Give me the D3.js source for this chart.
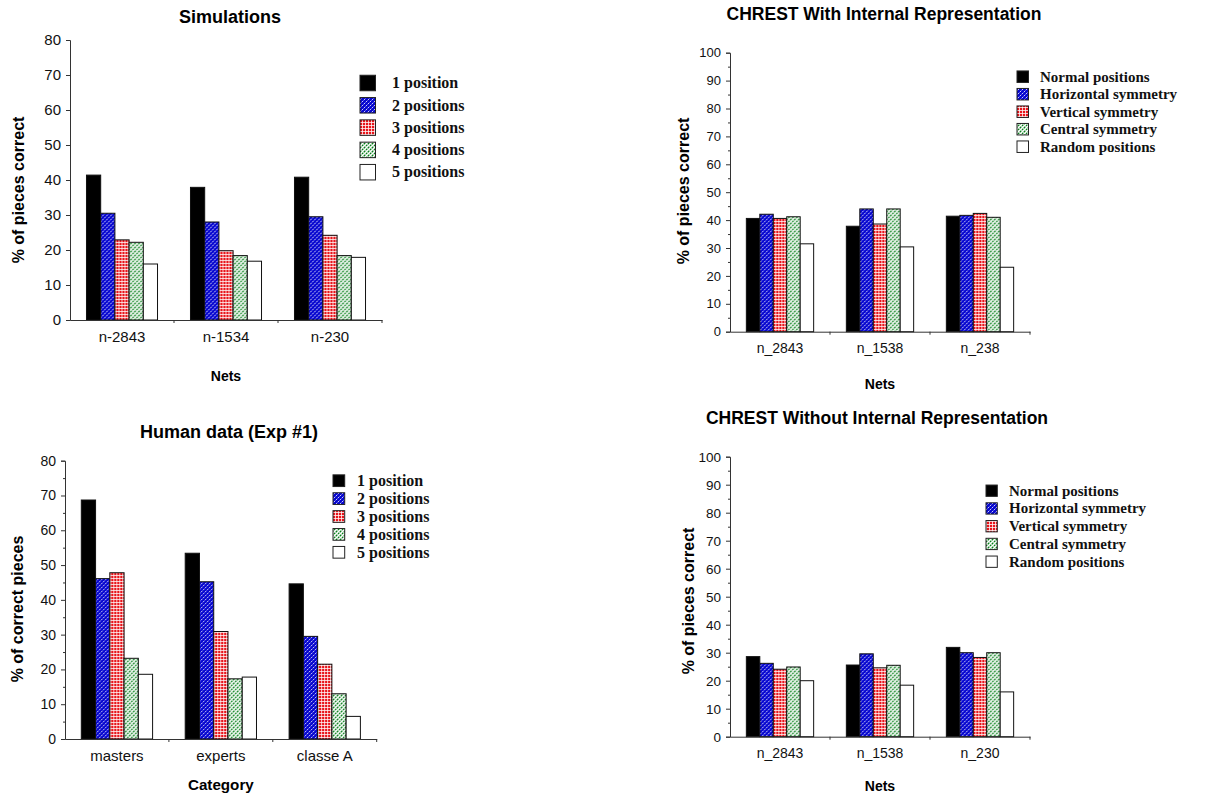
<!DOCTYPE html>
<html>
<head>
<meta charset="utf-8">
<script src="https://cdn.jsdelivr.net/npm/d3@7"></script>
<style>
  html, body { margin: 0; padding: 0; background: #fff; }
  svg { display: block; }
  .sans { font-family: "Liberation Sans", Arial, Helvetica, sans-serif; }
  .serif { font-family: "Liberation Serif", "Times New Roman", serif; }
</style>
</head>
<body>
<svg id="chart" width="1209" height="797"></svg>
<script>
// ---------------- DATA ----------------
const posSeries = ["1 position", "2 positions", "3 positions", "4 positions", "5 positions"];
const symSeries = ["Normal positions", "Horizontal symmetry", "Vertical symmetry", "Central symmetry", "Random positions"];

const simCategories = ["n-2843", "n-1534", "n-230"];
const simValues = [
  [41.4, 30.5, 22.9, 22.2, 16.0],
  [37.9, 28.0, 19.8, 18.4, 16.8],
  [40.8, 29.5, 24.2, 18.4, 17.9]
];

const withCategories = ["n_2843", "n_1538", "n_238"];
const withValues = [
  [40.6, 42.1, 40.6, 41.2, 31.5],
  [37.8, 44.0, 38.6, 44.0, 30.4],
  [41.4, 41.7, 42.4, 41.0, 23.1]
];

const humanCategories = ["masters", "experts", "classe A"];
const humanValues = [
  [68.7, 46.1, 47.8, 23.2, 18.6],
  [53.4, 45.2, 30.9, 17.3, 17.8],
  [44.6, 29.5, 21.5, 13.0, 6.5]
];

const withoutCategories = ["n_2843", "n_1538", "n_230"];
const withoutValues = [
  [28.6, 26.2, 24.1, 24.9, 20.0],
  [25.6, 29.6, 24.6, 25.5, 18.4],
  [31.9, 30.0, 28.3, 30.0, 16.0]
];

const ticks80 = [0, 10, 20, 30, 40, 50, 60, 70, 80];
const ticks100 = [0, 10, 20, 30, 40, 50, 60, 70, 80, 90, 100];
const minor80 = [5, 15, 25, 35, 45, 55, 65, 75];
const minor100 = [5, 15, 25, 35, 45, 55, 65, 75, 85, 95];

// ---------------- PATTERNS ----------------
const svg = d3.select("#chart");
const defs = svg.append("defs");

const pBlue = defs.append("pattern").attr("id", "pBlue")
  .attr("patternUnits", "userSpaceOnUse").attr("width", 4).attr("height", 4);
pBlue.append("rect").attr("width", 4).attr("height", 4).attr("fill", "#0808d0");
pBlue.append("path").attr("d", "M-1,1 L1,-1 M0,4 L4,0 M3,5 L5,3")
  .attr("stroke", "#fff").attr("stroke-width", 0.8).attr("stroke-dasharray", "1.8,0.8");

const pRed = defs.append("pattern").attr("id", "pRed")
  .attr("patternUnits", "userSpaceOnUse").attr("width", 3).attr("height", 3);
pRed.append("rect").attr("width", 3).attr("height", 3).attr("fill", "#e8141a");
pRed.append("rect").attr("x", 2).attr("y", 0).attr("width", 1).attr("height", 3).attr("fill", "#fff").attr("opacity", 0.75);
pRed.append("rect").attr("x", 0).attr("y", 2).attr("width", 3).attr("height", 1).attr("fill", "#fff").attr("opacity", 0.75);

const pGreen = defs.append("pattern").attr("id", "pGreen")
  .attr("patternUnits", "userSpaceOnUse").attr("width", 4).attr("height", 4);
pGreen.append("rect").attr("width", 4).attr("height", 4).attr("fill", "#fff");
pGreen.append("path").attr("d", "M-1,1 L1,-1 M0,4 L4,0 M3,5 L5,3")
  .attr("stroke", "#07801a").attr("stroke-width", 1.3).attr("stroke-dasharray", "2,0.8");

const fills = ["#000", "url(#pBlue)", "url(#pRed)", "url(#pGreen)", "#fff"];

// ---------------- PANEL DRAWING ----------------
function drawPanel(cfg) {
  const g = svg.append("g");
  const x0 = d3.scaleBand().domain(cfg.categories)
    .range([cfg.left, cfg.right]).paddingInner(cfg.pad).paddingOuter(cfg.pad / 2);
  const x1 = d3.scaleBand().domain(d3.range(cfg.series.length))
    .range([0, x0.bandwidth()]).padding(0);
  const y = d3.scaleLinear().domain([0, cfg.yMax]).range([cfg.bottom, cfg.top]);

  // title
  g.append("text").attr("class", "sans")
    .attr("x", cfg.titleX).attr("y", cfg.titleY)
    .attr("text-anchor", "middle").attr("font-weight", "bold")
    .attr("font-size", cfg.titleSize).text(cfg.title);

  // bars
  cfg.categories.forEach((c, ci) => {
    const grp = g.append("g").attr("transform", `translate(${x0(c)},0)`);
    grp.selectAll("rect").data(cfg.values[ci]).join("rect")
      .attr("x", (d, i) => x1(i))
      .attr("y", d => y(d))
      .attr("width", x1.bandwidth())
      .attr("height", d => y(0) - y(d))
      .attr("fill", (d, i) => fills[i])
      .attr("stroke", "#111").attr("stroke-width", 1);
  });

  // y axis
  const yAxis = g.append("g").attr("class", "sans")
    .attr("transform", `translate(${cfg.left},0)`)
    .call(d3.axisLeft(y).tickValues(cfg.yTicks).tickSize(4).tickPadding(5).tickFormat(d3.format("d")));
  yAxis.selectAll("text").attr("font-size", cfg.tickSize).attr("fill", "#111");
  yAxis.select(".domain").attr("stroke", "#333");
  yAxis.selectAll(".tick line").attr("stroke", "#333");
  if (cfg.minor) {
    const ym = g.append("g").attr("transform", `translate(${cfg.left},0)`)
      .call(d3.axisLeft(y).tickValues(cfg.minor).tickSize(2).tickFormat(""));
    ym.select(".domain").remove();
    ym.selectAll(".tick line").attr("stroke", "#333");
  }

  // x axis (labels centered under groups, ticks at group boundaries)
  const xAxis = g.append("g").attr("class", "sans")
    .attr("transform", `translate(0,${cfg.bottom})`)
    .call(d3.axisBottom(x0).tickSize(0).tickPadding(cfg.catPad));
  xAxis.selectAll("text").attr("font-size", cfg.catSize).attr("fill", "#111");
  xAxis.select(".domain").attr("stroke", "#333");
  const step = x0.step();
  const bounds = d3.range(cfg.categories.length + 1).map(i => cfg.left + i * step);
  g.append("g").selectAll("line").data(bounds.slice(1)).join("line")
    .attr("x1", d => d).attr("x2", d => d)
    .attr("y1", cfg.bottom).attr("y2", cfg.bottom + 3)
    .attr("stroke", "#333");

  // axis titles
  g.append("text").attr("class", "sans")
    .attr("x", (cfg.left + cfg.right) / 2).attr("y", cfg.xLabelY)
    .attr("text-anchor", "middle").attr("font-weight", "bold")
    .attr("font-size", cfg.xLabelSize).text(cfg.xLabel);
  g.append("text").attr("class", "sans")
    .attr("transform", `translate(${cfg.yLabelX},${cfg.yLabelY}) rotate(-90)`)
    .attr("text-anchor", "middle").attr("dominant-baseline", "central")
    .attr("font-weight", "bold").attr("font-size", 16).text(cfg.yLabel);

  // legend
  const lg = g.append("g");
  cfg.series.forEach((s, i) => {
    const cy = cfg.legY + i * cfg.legStep;
    lg.append("rect")
      .attr("x", cfg.legX).attr("y", cy - cfg.legBox / 2)
      .attr("width", cfg.legBox).attr("height", cfg.legBox)
      .attr("fill", fills[i]).attr("stroke", "#222").attr("stroke-width", 1);
    lg.append("text").attr("class", "serif")
      .attr("x", cfg.legTextX).attr("y", cy + cfg.legFont * 0.33)
      .attr("font-weight", "bold").attr("font-size", cfg.legFont)
      .attr("fill", "#111").text(s);
  });
}

drawPanel({
  title: "Simulations", titleX: 230, titleY: 23, titleSize: 18,
  categories: simCategories, series: posSeries, values: simValues,
  left: 70, right: 382, top: 40, bottom: 320, pad: 0.317,
  yMax: 80, yTicks: ticks80, minor: null, tickSize: 15, catSize: 15, catPad: 11,
  xLabel: "Nets", xLabelY: 381, xLabelSize: 14,
  yLabel: "% of pieces correct", yLabelX: 18, yLabelY: 190,
  legX: 360, legY: 83, legStep: 22.3, legBox: 15.5, legTextX: 392, legFont: 16
});

drawPanel({
  title: "CHREST With Internal Representation", titleX: 884, titleY: 19.5, titleSize: 17.5,
  categories: withCategories, series: symSeries, values: withValues,
  left: 730, right: 1030, top: 52.7, bottom: 331.7, pad: 0.327,
  yMax: 100, yTicks: ticks100, minor: minor100, tickSize: 13, catSize: 14, catPad: 11,
  xLabel: "Nets", xLabelY: 389, xLabelSize: 14,
  yLabel: "% of pieces correct", yLabelX: 683, yLabelY: 191,
  legX: 1017, legY: 76.7, legStep: 17.5, legBox: 11.5, legTextX: 1040, legFont: 15
});

drawPanel({
  title: "Human data (Exp #1)", titleX: 229, titleY: 438, titleSize: 18,
  categories: humanCategories, series: posSeries, values: humanValues,
  left: 65, right: 376.7, top: 460.7, bottom: 739, pad: 0.314,
  yMax: 80, yTicks: ticks80, minor: minor80, tickSize: 14, catSize: 15, catPad: 11,
  xLabel: "Category", xLabelY: 790, xLabelSize: 15.2,
  yLabel: "% of correct pieces", yLabelX: 17, yLabelY: 609,
  legX: 333, legY: 480.7, legStep: 17.9, legBox: 11.7, legTextX: 357, legFont: 16
});

drawPanel({
  title: "CHREST Without Internal Representation", titleX: 877, titleY: 424, titleSize: 17.5,
  categories: withoutCategories, series: symSeries, values: withoutValues,
  left: 730, right: 1030, top: 456.7, bottom: 736.7, pad: 0.327,
  yMax: 100, yTicks: ticks100, minor: minor100, tickSize: 13.5, catSize: 14, catPad: 11,
  xLabel: "Nets", xLabelY: 791, xLabelSize: 14,
  yLabel: "% of pieces correct", yLabelX: 688, yLabelY: 601,
  legX: 986, legY: 490.7, legStep: 17.75, legBox: 11.3, legTextX: 1009, legFont: 15
});
</script>
</body>
</html>
